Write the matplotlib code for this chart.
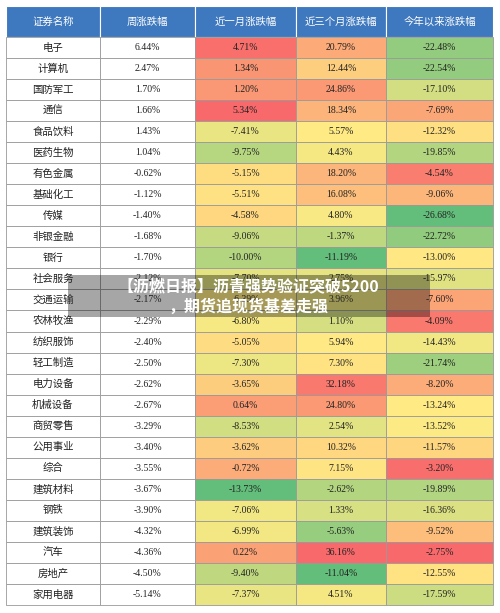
import matplotlib
matplotlib.use("Agg")
import matplotlib.pyplot as plt
import numpy as np
from matplotlib.colors import LinearSegmentedColormap
from matplotlib.patches import Rectangle

plt.rcParams['font.family'] = ['Noto Sans CJK SC', 'DejaVu Sans']

headers = ["证券名称", "周涨跌幅", "近一月涨跌幅", "近三个月涨跌幅", "今年以来涨跌幅"]
names = ["电子","计算机","国防军工","通信","食品饮料","医药生物","有色金属","基础化工","传媒","非银金融",
         "银行","社会服务","交通运输","农林牧渔","纺织服饰","轻工制造","电力设备","机械设备","商贸零售",
         "公用事业","综合","建筑材料","钢铁","建筑装饰","汽车","房地产","家用电器"]
week = [6.44,2.47,1.70,1.66,1.43,1.04,-0.62,-1.12,-1.40,-1.68,-1.70,-2.12,-2.17,-2.29,-2.40,-2.50,
        -2.62,-2.67,-3.29,-3.40,-3.55,-3.67,-3.90,-4.32,-4.36,-4.50,-5.14]
month = [4.71,1.34,1.20,5.34,-7.41,-9.75,-5.15,-5.51,-4.58,-9.06,-10.00,-7.70,-6.39,-6.80,-5.05,-7.30,
         -3.65,0.64,-8.53,-3.62,-0.72,-13.73,-7.06,-6.99,0.22,-9.40,-7.37]
month3 = [20.79,12.44,24.86,18.34,5.57,4.43,18.20,16.08,4.80,-1.37,-11.19,2.75,3.96,1.10,5.94,7.30,
          32.18,24.80,2.54,10.32,7.15,-2.62,1.33,-5.63,36.16,-11.04,4.51]
ytd = [-22.48,-22.54,-17.10,-7.69,-12.32,-19.85,-4.54,-9.06,-26.68,-22.72,-13.00,-15.97,-7.60,-4.09,
       -14.43,-21.74,-8.20,-13.24,-13.52,-11.57,-3.20,-19.89,-16.36,-9.52,-2.75,-12.55,-17.59]

cmap = LinearSegmentedColormap.from_list("gyr", ["#63BE7B", "#FFEB84", "#F8696B"])

W, H = 500, 613
fig = plt.figure(figsize=(W/100, H/100), dpi=100)
ax = fig.add_axes([0, 0, 1, 1])
ax.set_xlim(0, W); ax.set_ylim(H, 0); ax.axis('off')

xs = [6, 100, 195, 296, 386, 493]
top, hh = 6, 31
rh = (605 - 37) / len(names)

for j, h in enumerate(headers):
    ax.add_patch(Rectangle((xs[j], top), xs[j+1]-xs[j], hh, fc="#3E78BE", ec="white", lw=0.8))
    ax.text((xs[j]+xs[j+1])/2, top+hh/2, h, color="white", ha="center", va="center", fontsize=7.5)

def col_color(vals, v):
    vals = np.array(vals)
    lo, mid, hi = vals.min(), np.percentile(vals, 50), vals.max()
    t = 0.5*(v-lo)/(mid-lo) if v <= mid else 0.5 + 0.5*(v-mid)/(hi-mid)
    return cmap(t)

cols = [week, month, month3, ytd]
for i, n in enumerate(names):
    y = 37 + i*rh
    ax.add_patch(Rectangle((xs[0], y), xs[1]-xs[0], rh, fc="white", ec="#999999", lw=0.6))
    ax.text((xs[0]+xs[1])/2, y+rh/2, n, ha="center", va="center", fontsize=7.5, color="#222222")
    for j, vals in enumerate(cols):
        fc = "white" if j == 0 else col_color(vals, vals[i])
        ax.add_patch(Rectangle((xs[j+1], y), xs[j+2]-xs[j+1], rh, fc=fc, ec="#999999", lw=0.6))
        ax.text((xs[j+1]+xs[j+2])/2, y+rh/2, f"{vals[i]:.2f}%", ha="center", va="center",
                fontsize=7, color="#222222", family="Liberation Serif")

ax.add_patch(Rectangle((68, 275), 362, 42, fc="black", alpha=0.35, ec="none"))
ax.text(248, 286, "【沥燃日报】沥青强势验证突破5200", ha="center", va="center",
        fontsize=11.5, color="white", fontweight="bold")
ax.text(248, 307, "，期货追现货基差走强", ha="center", va="center",
        fontsize=11.5, color="white", fontweight="bold")

fig.savefig("out.png", dpi=100)
